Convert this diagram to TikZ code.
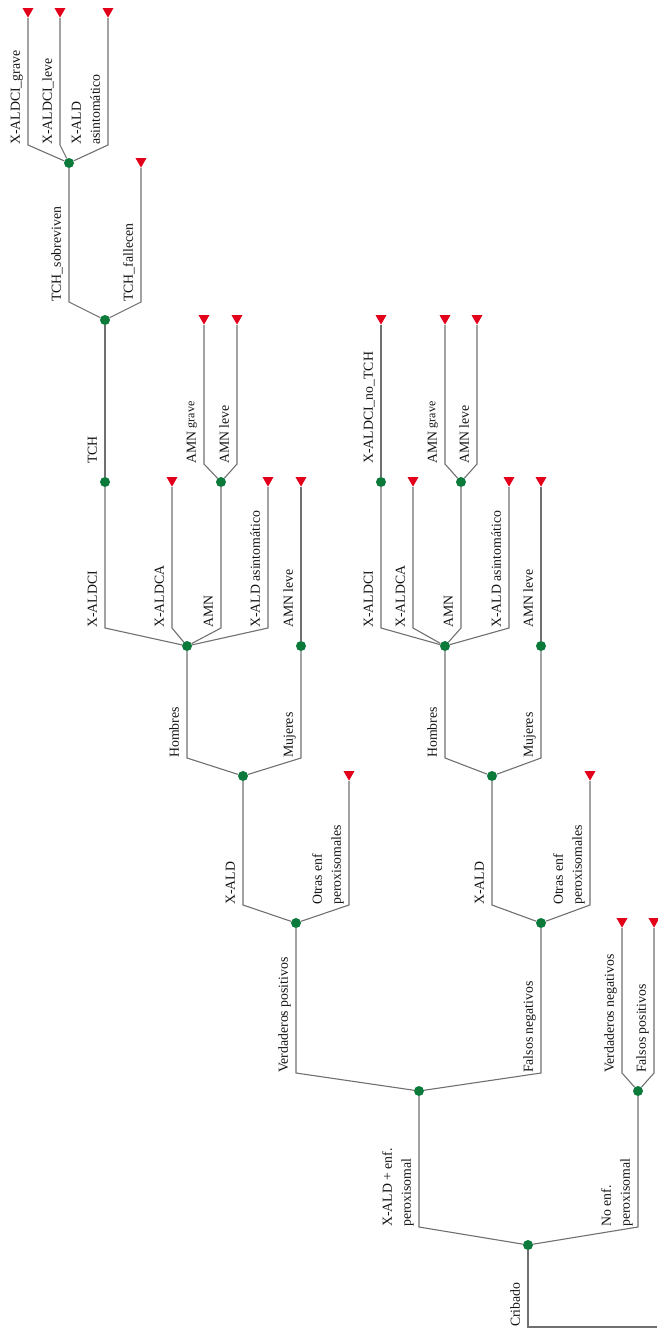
\documentclass[tikz,border=0pt]{standalone}
\usepackage{fontspec}
\setmainfont{Liberation Serif}
\usetikzlibrary{calc,shapes.geometric}
\definecolor{edgec}{HTML}{707070}
\definecolor{nodeg}{HTML}{0B7A3B}
\definecolor{termr}{HTML}{E2001A}
\definecolor{textc}{HTML}{141414}
\newcommand\branch[4]{%
  \draw[edge] (#1) -- ($(#2.#3|-#1)+(0,-18)$) -- (#2.#3);
  \node[lab] (lab-#2) at ($(#2.#3|-#1)+(-5,-18)$) {#4};
}
\newcommand\smallgrave{\raisebox{1.5pt}{\fontsize{12}{12}\selectfont grave}}
\begin{document}
\begin{tikzpicture}[x=1pt,y=-1pt,
  edge/.style={draw=edgec, line width=1.1pt},
  chance/.style={circle, fill=nodeg, inner sep=0pt, minimum size=10pt},
  term/.style={regular polygon, regular polygon sides=3, shape border rotate=180, fill=termr, inner sep=0pt, minimum size=12.5pt, anchor=corner 1},
  lab/.style={rotate=90, anchor=south west, inner sep=0pt, align=left, text=textc, font=\fontsize{13.8}{19}\selectfont, text depth=3pt},
]
\useasboundingbox (0,0) rectangle (657,1329);
% chance and terminal nodes
\node[chance] (root) at (528,1245) {};
\coordinate (start) at (657,1327);
\node[chance] (A) at (419,1091) {};
\node[chance] (B) at (638,1091) {};
\node[chance] (VP) at (296,923) {};
\node[chance] (FN) at (541,923) {};
\node[term] (VN) at (622,928) {};
\node[term] (FP) at (654,928) {};
\node[chance] (XA1) at (243,776) {};
\node[term] (OE1) at (349,781) {};
\node[chance] (XA2) at (492,776) {};
\node[term] (OE2) at (590,781) {};
\node[chance] (H1) at (187,646) {};
\node[chance] (M1) at (301,646) {};
\node[chance] (H2) at (445,646) {};
\node[chance] (M2) at (541,646) {};
\node[chance] (CI1) at (105,482) {};
\node[term] (CA1) at (172,487) {};
\node[chance] (AMN1) at (221,482) {};
\node[term] (AS1) at (268,487) {};
\node[term] (ML1) at (301,487) {};
\node[chance] (CI2) at (381,482) {};
\node[term] (CA2) at (413,487) {};
\node[chance] (AMN2) at (461,482) {};
\node[term] (AS2) at (509,487) {};
\node[term] (ML2) at (541,487) {};
\node[chance] (TCH) at (105,320) {};
\node[term] (AG1) at (204,325) {};
\node[term] (AL1) at (237,325) {};
\node[term] (NT) at (381,325) {};
\node[term] (AG2) at (445,325) {};
\node[term] (AL2) at (477,325) {};
\node[chance] (SOB) at (69,163) {};
\node[term] (FAL) at (141,168) {};
\node[term] (GR) at (28,18) {};
\node[term] (LE) at (60,18) {};
\node[term] (AST) at (108,18) {};
% root
\draw[edge] (start) -- (root|-start) -- (root);
\node[lab] (lab-root) at ($(root|-start)+(-5,0)$) {Cribado};
\branch{root}{A}{south}{X-ALD + enf.\\peroxisomal}
\branch{root}{B}{south}{No enf.\\peroxisomal}
\branch{A}{VP}{south}{Verdaderos positivos}
\branch{A}{FN}{south}{Falsos negativos}
\branch{B}{VN}{corner 1}{Verdaderos negativos}
\branch{B}{FP}{corner 1}{Falsos positivos}
\branch{VP}{XA1}{south}{X-ALD}
\branch{VP}{OE1}{corner 1}{Otras enf\\peroxisomales}
\branch{FN}{XA2}{south}{X-ALD}
\branch{FN}{OE2}{corner 1}{Otras enf\\peroxisomales}
\branch{XA1}{H1}{south}{Hombres}
\branch{XA1}{M1}{south}{Mujeres}
\branch{XA2}{H2}{south}{Hombres}
\branch{XA2}{M2}{south}{Mujeres}
\branch{H1}{CI1}{south}{X-ALDCI}
\branch{H1}{CA1}{corner 1}{X-ALDCA}
\branch{H1}{AMN1}{south}{AMN}
\branch{H1}{AS1}{corner 1}{X-ALD asintomático}
\branch{M1}{ML1}{corner 1}{AMN leve}
\branch{H2}{CI2}{south}{X-ALDCI}
\branch{H2}{CA2}{corner 1}{X-ALDCA}
\branch{H2}{AMN2}{south}{AMN}
\branch{H2}{AS2}{corner 1}{X-ALD asintomático}
\branch{M2}{ML2}{corner 1}{AMN leve}
\branch{CI1}{TCH}{south}{TCH}
\branch{AMN1}{AG1}{corner 1}{AMN \smallgrave}
\branch{AMN1}{AL1}{corner 1}{AMN leve}
\branch{CI2}{NT}{corner 1}{X-ALDCI\_no\_TCH}
\branch{AMN2}{AG2}{corner 1}{AMN \smallgrave}
\branch{AMN2}{AL2}{corner 1}{AMN leve}
\branch{TCH}{SOB}{south}{TCH\_sobreviven}
\branch{TCH}{FAL}{corner 1}{TCH\_fallecen}
\branch{SOB}{GR}{corner 1}{X-ALDCI\_grave}
\branch{SOB}{LE}{corner 1}{X-ALDCI\_leve}
\branch{SOB}{AST}{corner 1}{X-ALD\\asintomático}
\end{tikzpicture}
\end{document}
